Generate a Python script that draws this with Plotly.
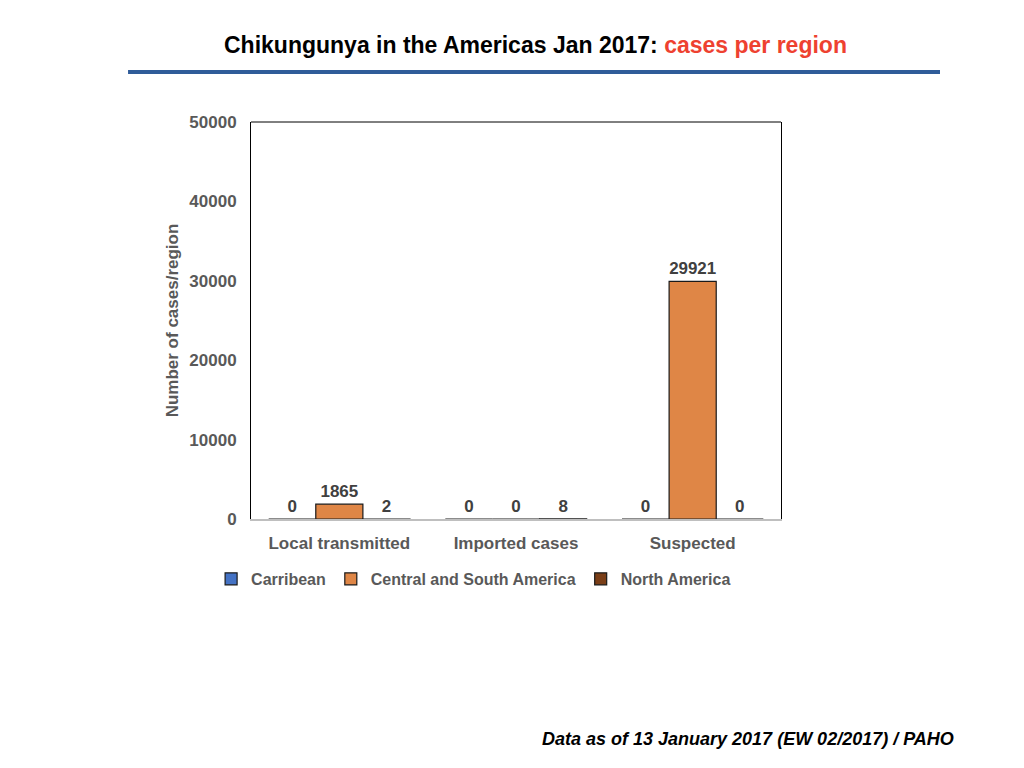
import plotly.graph_objects as go

# ==================== 데이터 ====================
categories = ['Local transmitted', 'Imported cases', 'Suspected']
carribean = [0, 0, 0]
central_south = [1865, 0, 29921]
north_america = [2, 8, 0]
y_ticks = [0, 10000, 20000, 30000, 40000, 50000]

COLORS = {
    'BLUE': '#4472C4', 'ORANGE': '#DF8646', 'BROWN': '#7A3E17',
    'GRAY': '#595959', 'LABEL': '#404040', 'RULE': '#2F5C99', 'RED': '#EE4130',
    'AXIS': '#BFBFBF',
}
FONT = 'Liberation Sans'
CLEAR = 'rgba(0,0,0,0)'

series = [
    ('Carribean', carribean, COLORS['BLUE']),
    ('Central and South America', central_south, COLORS['ORANGE']),
    ('North America', north_america, COLORS['BROWN']),
]

fig = go.Figure()
for name, vals, color in series:
    fig.add_trace(go.Bar(
        x=categories, y=vals, name=f'<b>{name}</b>',
        marker=dict(color=color, line=dict(color='#1a1a1a', width=1.2)),
        text=[f'<b>{v}</b>' for v in vals],
        textposition='outside', cliponaxis=False,
        textfont=dict(family=FONT, size=17, color=COLORS['LABEL']),
    ))

# 페이지 body 여백(8px) 보정
fig.update_layout(
    width=1024, height=768,
    margin=dict(l=243, r=251, t=114, b=257),
    paper_bgcolor='white', plot_bgcolor='white',
    barmode='group', bargap=0.2, bargroupgap=0,
    font=dict(family=FONT, color=COLORS['GRAY']),
    showlegend=True,
    legend=dict(orientation='h', x=0.42, xanchor='center', y=-0.151, yanchor='middle',
                font=dict(family=FONT, size=16, color=COLORS['GRAY']),
                itemwidth=30, traceorder='normal'),
)

fig.update_xaxes(
    showline=True, linecolor=COLORS['AXIS'], linewidth=1.5, mirror=False,
    ticks='outside', ticklen=8, tickcolor=CLEAR,
    tickfont=dict(family=FONT, size=17, color=COLORS['GRAY']),
    tickvals=categories, ticktext=[f'<b>{c}</b>' for c in categories],
)
fig.update_yaxes(
    range=[0, 50000], tickvals=y_ticks, ticktext=[f'<b>{v}</b>' for v in y_ticks],
    showgrid=False, zeroline=False,
    showline=True, linecolor='black', linewidth=1, mirror=True,
    ticks='outside', ticklen=10, tickcolor=CLEAR,
    tickfont=dict(family=FONT, size=17, color=COLORS['GRAY']),
    title=dict(text='<b>Number of cases/region</b>', standoff=6,
               font=dict(family=FONT, size=17, color=COLORS['GRAY'])),
)

# 위쪽 테두리
fig.add_shape(type='line', xref='paper', yref='paper', x0=0, x1=1, y0=1, y1=1,
              line=dict(color='black', width=1))

# 제목
fig.add_annotation(
    xref='paper', yref='paper', x=0.536, y=1.194, xanchor='center', yanchor='middle',
    showarrow=False,
    text=f"<b>Chikungunya in the Americas Jan 2017: <span style='color:{COLORS['RED']}'>cases per region</span></b>",
    font=dict(family=FONT, size=23, color='black'),
)
fig.add_shape(type='line', xref='paper', yref='paper', x0=-0.232, x1=1.3, y0=1.126, y1=1.126,
              line=dict(color=COLORS['RULE'], width=4))

# 출처
fig.add_annotation(
    xref='paper', yref='paper', x=1.330, y=-0.554, xanchor='right', yanchor='middle',
    showarrow=False,
    text='<b><i>Data as of 13 January 2017 (EW 02/2017) / PAHO</i></b>',
    font=dict(family=FONT, size=18, color='black'),
)

fig.write_html("out.html")
